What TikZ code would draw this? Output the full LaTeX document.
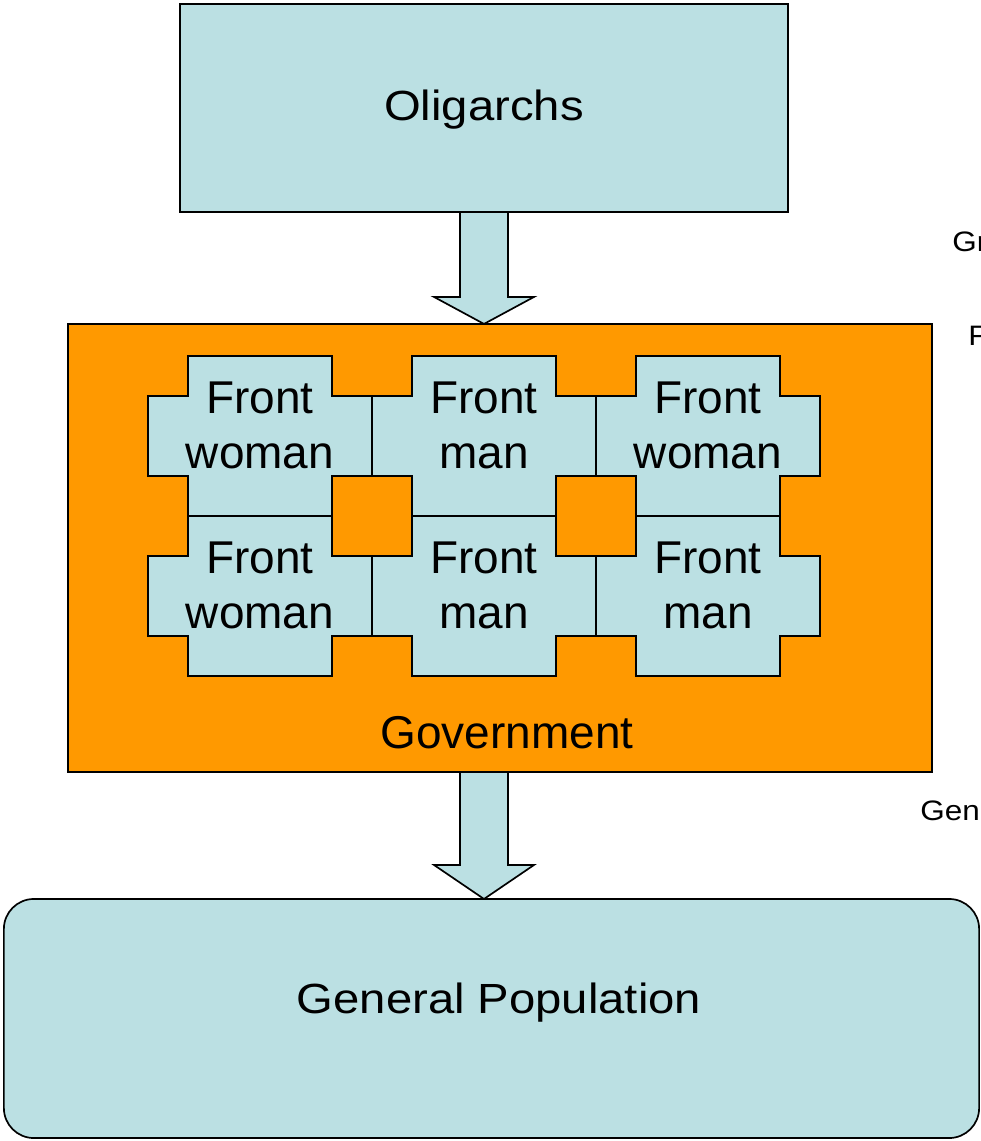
\documentclass[tikz,border=0pt]{standalone}
\usepackage{fontspec}
\setmainfont{Liberation Sans}
\newfontfamily\widefont{Liberation Sans}[FakeStretch=1.12]
\usetikzlibrary{calc}
\definecolor{paleblue}{RGB}{187,224,227}
\definecolor{govorange}{RGB}{255,153,0}
\tikzset{
  box/.style={draw, line width=1.2pt, inner sep=0, outer sep=0},
  piece/.style={draw, fill=paleblue, line width=1.2pt, line join=miter},
  blockarrow/.style={draw, fill=paleblue, line width=1.2pt, line join=miter},
  bigtext/.style={font={\fontsize{32.7}{39}\selectfont}, align=center, inner sep=0},
  widetext/.style={font={\widefont\fontsize{30}{36}\selectfont}, inner sep=0},
  edgetext/.style={font={\widefont\fontsize{20}{24}\selectfont}, inner sep=0}
}
\begin{document}
\begin{tikzpicture}[x=0.025cm, y=-0.025cm]
  \useasboundingbox (0,0) rectangle (980,1141);

  % The three layers.
  \node[box, fill=paleblue, minimum width=15.2cm, minimum height=5.2cm] (olig) at (484,108) {};
  \node[box, fill=govorange, minimum width=21.6cm, minimum height=11.2cm] (gov) at (500,548) {};
  \node[box, fill=paleblue, rounded corners=0.75cm,
    minimum width=24.375cm, minimum height=5.975cm] (pop) at (491.5,1018.5) {};

  \node[widetext, anchor=base] (oligtext) at (484,121) {Oligarchs};
  \node[bigtext, anchor=base] (govtext) at (507,748) {Government};
  \node[widetext, anchor=base] (poptext) at (499,1013) {General Population};

  % Each piece is 224x160, with 40 cut out of every corner.
  \foreach \x in {148,372,596}
    \foreach \y in {356,516}
      \draw[piece] (\x,\y) ++(40,0) -- ++(144,0) -- ++(0,40) -- ++(40,0)
        -- ++(0,80) -- ++(-40,0) -- ++(0,40) -- ++(-144,0) -- ++(0,-40)
        -- ++(-40,0) -- ++(0,-80) -- ++(40,0) -- cycle;

  % The front people (base is the last line).
  \foreach \name/\x/\y/\who in {fwa/260/468/woman, fma/484/468/man, fwb/708/468/woman,
      fwc/260/628/woman, fmb/484/628/man, fmc/708/628/man}
    \node[bigtext, anchor=base] (\name) at (\x,\y) {Front\\\who};

  % Block arrows between the layers.
  \coordinate (tipa) at (olig.south |- gov.north);
  \draw[blockarrow] ($(olig.south)+(-24,0)$) -- ($(tipa)+(-24,-27)$)
    -- ($(tipa)+(-50,-27)$) -- (tipa) -- ($(tipa)+(50,-27)$)
    -- ($(tipa)+(24,-27)$) -- ($(olig.south)+(24,0)$) -- cycle;

  \coordinate (roota) at (gov.south -| olig.south);
  \coordinate (tipb) at (pop.north -| olig.south);
  \draw[blockarrow] ($(roota)+(-24,0)$) -- ($(tipb)+(-24,-34)$)
    -- ($(tipb)+(-50,-34)$) -- (tipb) -- ($(tipb)+(50,-34)$)
    -- ($(tipb)+(24,-34)$) -- ($(roota)+(24,0)$) -- cycle;

  % Texts cut off at the right edge.
  \node[edgetext, anchor=base west] (gr) at (952,252) {Gr};
  \node[edgetext, anchor=base west] (fr) at (968,346) {F};
  \node[edgetext, anchor=base west] (gen) at (920,820) {Gen};
\end{tikzpicture}
\end{document}
